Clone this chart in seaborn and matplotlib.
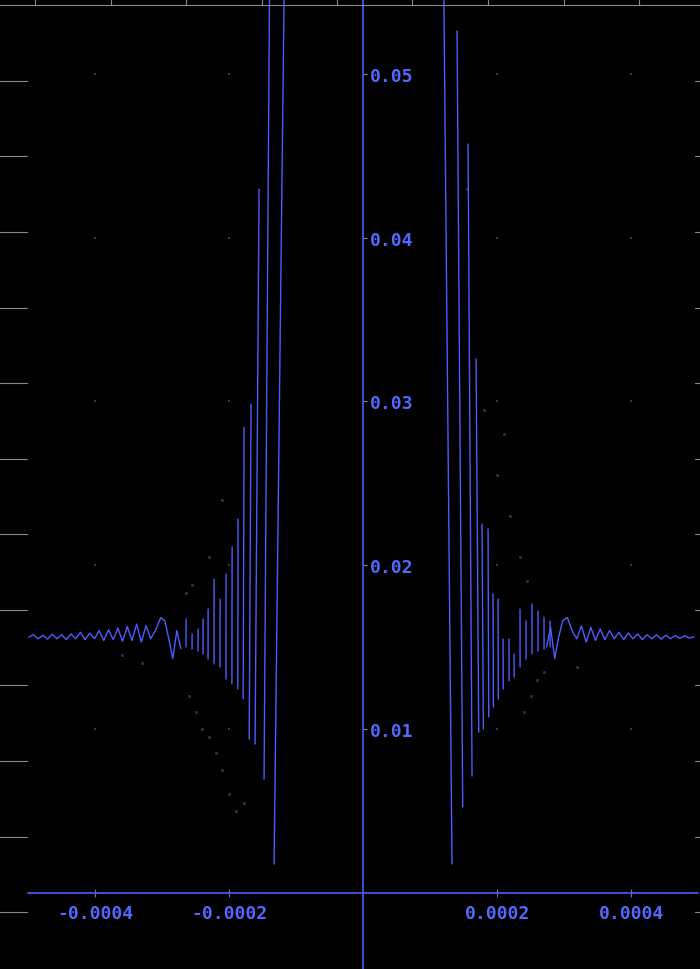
import numpy as np
import pandas as pd
import matplotlib
matplotlib.use('Agg')
import matplotlib.pyplot as plt
from matplotlib.lines import Line2D
import seaborn as sns

# valeurs : x en unites de 1e-4, y en unites de 1e-2
# pics gauches (point haut -> point bas)
left_top_x = [-1.164, -1.388, -1.552, -1.672, -1.776, -1.866, -1.955, -2.045, -2.134, -2.224, -2.313, -2.388, -2.463, -2.552, -2.642]
left_top_y = [6.0, 6.0, 4.298, 2.984, 2.843, 2.282, 2.111, 1.946, 1.793, 1.915, 1.732, 1.671, 1.610, 1.579, 1.671]
left_bot_x = [-1.328, -1.478, -1.612, -1.700, -1.790, -1.870, -1.958, -2.047, -2.136, -2.225, -2.314, -2.389, -2.464, -2.553, -2.643]
left_bot_y = [0.174, 0.693, 0.907, 0.938, 1.182, 1.243, 1.274, 1.304, 1.378, 1.396, 1.426, 1.457, 1.475, 1.487, 1.500]

# pics droits
right_top_x = [1.194, 1.403, 1.567, 1.687, 1.776, 1.866, 1.940, 2.015, 2.090, 2.179, 2.254, 2.343, 2.433, 2.522, 2.612, 2.701, 2.791]
right_top_y = [6.0, 5.263, 4.572, 3.259, 2.251, 2.221, 1.824, 1.793, 1.549, 1.549, 1.457, 1.732, 1.659, 1.762, 1.720, 1.683, 1.659]
right_bot_x = [1.328, 1.488, 1.627, 1.727, 1.796, 1.876, 1.946, 2.019, 2.093, 2.181, 2.256, 2.344, 2.434, 2.523, 2.613, 2.702, 2.792]
right_bot_y = [0.174, 0.522, 0.712, 0.980, 0.999, 1.072, 1.133, 1.182, 1.243, 1.292, 1.316, 1.378, 1.426, 1.457, 1.475, 1.487, 1.500]

# queues oscillantes
left_tail_x = [-4.99, -4.92, -4.85, -4.78, -4.71, -4.64, -4.57, -4.50, -4.43, -4.36, -4.29, -4.22,
               -4.15, -4.08, -4.01, -3.94, -3.87, -3.80, -3.73, -3.66, -3.59, -3.52, -3.45, -3.38,
               -3.31, -3.24, -3.17, -3.10, -3.02, -2.96, -2.90, -2.84, -2.78, -2.72]
left_tail_y = [1.56, 1.575, 1.55, 1.572, 1.548, 1.578, 1.55, 1.575, 1.545, 1.58, 1.55, 1.59,
               1.545, 1.585, 1.55, 1.60, 1.54, 1.605, 1.545, 1.615, 1.535, 1.625, 1.54, 1.64,
               1.53, 1.63, 1.55, 1.60, 1.68, 1.66, 1.55, 1.43, 1.60, 1.49]
right_tail_x = [2.74, 2.80, 2.86, 2.92, 2.98, 3.05, 3.12, 3.19, 3.26, 3.33, 3.40, 3.47, 3.54,
                3.61, 3.68, 3.75, 3.82, 3.89, 3.96, 4.03, 4.10, 4.17, 4.24, 4.31, 4.38, 4.45,
                4.52, 4.59, 4.66, 4.73, 4.80, 4.87, 4.94]
right_tail_y = [1.50, 1.62, 1.43, 1.56, 1.66, 1.68, 1.60, 1.55, 1.63, 1.53, 1.62, 1.54, 1.61,
                1.545, 1.60, 1.55, 1.59, 1.545, 1.585, 1.55, 1.58, 1.545, 1.575, 1.55, 1.575,
                1.548, 1.572, 1.55, 1.57, 1.552, 1.568, 1.555, 1.562]

# points isoles pales
dots_x = [-2.64, -2.55, -2.60, -2.50, -2.40, -2.30, -2.20, -2.10, -2.00, -1.90, -2.30, -2.10,
          -3.60, -3.30, -1.78, 2.10, 2.20, 2.35, 2.45, 2.60, 2.50, 2.40, 2.70, 3.20, 1.55, 1.80, 2.00]
dots_y = [1.83, 1.88, 1.20, 1.10, 1.00, 0.95, 0.85, 0.75, 0.60, 0.50, 2.05, 2.40,
          1.45, 1.40, 0.55, 2.80, 2.30, 2.05, 1.90, 1.30, 1.20, 1.10, 1.35, 1.38, 4.30, 2.95, 2.55]

x_ticks = [-0.0004, -0.0002, 0.0002, 0.0004]
x_labels = ['-0.0004', '-0.0002', '0.0002', '0.0004']
y_ticks = [0.01, 0.02, 0.03, 0.04, 0.05]
y_labels = ['0.01', '0.02', '0.03', '0.04', '0.05']

line_col = '#4c5cff'
text_col = '#5468ff'

rows = []
for k, (tx, ty, bx, by) in enumerate(zip(left_top_x + right_top_x, left_top_y + right_top_y,
                                         left_bot_x + right_bot_x, left_bot_y + right_bot_y)):
    rows.append({'x': tx, 'y': ty, 'seg': f's{k}'})
    rows.append({'x': bx, 'y': by, 'seg': f's{k}'})
for px, py in zip(left_tail_x, left_tail_y):
    rows.append({'x': px, 'y': py, 'seg': 'tail_g'})
for px, py in zip(right_tail_x, right_tail_y):
    rows.append({'x': px, 'y': py, 'seg': 'tail_d'})
df = pd.DataFrame(rows)
df['x'] = df['x'] * 1e-4
df['y'] = df['y'] * 1e-2

dots = pd.DataFrame({'x': np.array(dots_x) * 1e-4, 'y': np.array(dots_y) * 1e-2})
grid = pd.DataFrame([(gx, gy) for gx in x_ticks for gy in y_ticks], columns=['x', 'y'])

sns.set_theme(style='dark', rc={'axes.facecolor': 'black', 'figure.facecolor': 'black'})
plt.rcParams['font.family'] = ['DejaVu Sans Mono']

fig = plt.figure(figsize=(7, 9.7), dpi=100)
ax = fig.add_axes([0, 0, 1, 1])

sns.scatterplot(data=grid, x='x', y='y', color='#3a3a3a', s=4, marker='s', linewidth=0, ax=ax)
sns.scatterplot(data=dots, x='x', y='y', color='#2e2e55', s=5, linewidth=0, ax=ax)
sns.lineplot(data=df, x='x', y='y', units='seg', estimator=None, sort=False,
             color=line_col, lw=1.0, ax=ax)

ax.set_xlim(-0.000542, 0.000503)
ax.set_ylim(-0.00467, 0.05458)
ax.set_xlabel('')
ax.set_ylabel('')
ax.grid(False)

ax.spines['left'].set_visible(False)
ax.spines['top'].set_visible(False)
ax.spines['bottom'].set_position(('data', 0))
ax.spines['bottom'].set_bounds(-0.0005, 0.0005)
ax.spines['right'].set_position(('data', 0))
for s in ('bottom', 'right'):
    ax.spines[s].set_color(line_col)
    ax.spines[s].set_linewidth(1.2)
    ax.spines[s].set_visible(True)

ax.yaxis.tick_right()
ax.set_xticks(x_ticks)
ax.set_xticklabels(x_labels, fontweight='bold')
ax.set_yticks(y_ticks)
ax.set_yticklabels(y_labels, fontweight='bold')
ax.tick_params(axis='x', direction='inout', length=6, width=0.8, color='#6a70b0',
               labelcolor=text_col, labelsize=13, pad=5, bottom=True)
ax.tick_params(axis='y', direction='out', length=3, width=0.8, color='#888888',
               labelcolor=text_col, labelsize=13, pad=2, right=True, left=False)

# cadre gris exterieur (graduations)
W, H = 700, 970
frame = '#8a8a8a'
for yp in [82, 157, 233, 309, 384, 460, 535, 611, 686, 762, 838, 913]:
    fig.add_artist(Line2D([0, 27 / W], [1 - yp / H, 1 - yp / H], color=frame, lw=0.8))
    fig.add_artist(Line2D([695 / W, 1], [1 - yp / H, 1 - yp / H], color=frame, lw=0.8))
fig.add_artist(Line2D([0, 1], [1 - 6 / H, 1 - 6 / H], color=frame, lw=0.8))
for xp in [35, 111, 186, 262, 337, 412, 488, 564, 639]:
    fig.add_artist(Line2D([xp / W, xp / W], [1 - 6 / H, 1], color=frame, lw=0.8))

fig.savefig('out.png', dpi=100, facecolor='black')
